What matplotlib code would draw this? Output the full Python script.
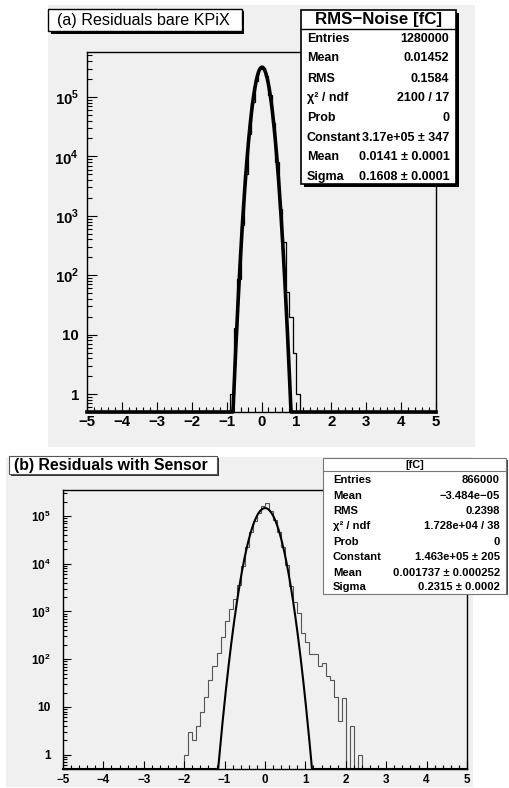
import numpy as np
import matplotlib
matplotlib.use('Agg')
import matplotlib.pyplot as plt
from matplotlib.patches import Rectangle
from matplotlib.ticker import FuncFormatter, FixedLocator, LogLocator, MultipleLocator

plt.rcParams['font.family'] = ['Liberation Sans', 'DejaVu Sans']
plt.rcParams['mathtext.fontset'] = 'custom'
plt.rcParams['mathtext.rm'] = 'Liberation Sans:bold'
plt.rcParams['mathtext.bf'] = 'Liberation Sans:bold'

W, H = 509, 788
PAD_GRAY = '#f0f0f0'

# histogram binning: 100 bins of 0.1 from -5 to 5
edges = np.round(np.linspace(-5.0, 5.0, 101), 2)

# (a) bare KPiX  -- lower bin edge -> entries
a_lo = [-0.9, -0.8, -0.7, -0.6, -0.5, -0.4, -0.3, -0.2, -0.1, 0.0,
        0.1, 0.2, 0.3, 0.4, 0.5, 0.6, 0.7, 0.8, 0.9, 1.0]
a_cnt = [1, 13, 85, 700, 5000, 24000, 82000, 188000, 293000, 309000,
         222000, 108000, 36000, 8000, 1300, 360, 53, 20, 5, 1]
a_const, a_mean, a_sigma = 3.17e5, 0.0141, 0.1608
a_stats = [('Entries', '1280000'), ('Mean', '0.01452'), ('RMS', '0.1584'),
           ('χ² / ndf', '2100 / 17'), ('Prob', '0'),
           ('Constant', '3.17e+05 ± 347'), ('Mean', '0.0141 ± 0.0001'),
           ('Sigma', '0.1608 ± 0.0001')]

# (b) with sensor
b_lo = [-2.0, -1.9, -1.8, -1.7, -1.6, -1.5, -1.4, -1.3, -1.2, -1.1,
        -1.0, -0.9, -0.8, -0.7, -0.6, -0.5, -0.4, -0.3, -0.2, -0.1,
        0.0, 0.1, 0.2, 0.3, 0.4, 0.5, 0.6, 0.7, 0.8, 0.9,
        1.0, 1.1, 1.2, 1.3, 1.4, 1.5, 1.6, 1.7, 1.8, 1.9,
        2.0, 2.1, 2.2, 2.3]
b_cnt = [1, 3, 2, 4, 8, 16, 37, 73, 135, 295,
         630, 1100, 1800, 3500, 9000, 22000, 47000, 80000, 115000, 160000,
         185000, 125000, 82000, 47000, 22500, 9500, 3400, 1600, 930, 360,
         230, 127, 127, 71, 84, 44, 36, 16, 5, 15,
         0, 4, 0, 1]
b_const, b_mean, b_sigma = 1.463e5, 0.001737, 0.2315
b_stats = [('Entries', '866000'), ('Mean', '−3.484e−05'), ('RMS', '0.2398'),
           ('χ² / ndf', '1.728e+04 / 38'), ('Prob', '0'),
           ('Constant', '1.463e+05 ± 205'), ('Mean', '0.001737 ± 0.000252'),
           ('Sigma', '0.2315 ± 0.0002')]


def counts(lo, cnt):
    c = np.zeros(len(edges) - 1)
    idx = np.round((np.array(lo) + 5.0) / 0.1).astype(int)
    c[idx] = cnt
    return c


def fax(x0, y0, x1, y1):
    # pixel box (top-left origin) -> figure fraction rect
    return [x0 / W, 1 - y1 / H, (x1 - x0) / W, (y1 - y0) / H]


def log_label(v, pos):
    k = int(round(np.log10(v)))
    if k == 0:
        return '1'
    if k == 1:
        return '10'
    return r'$10^{%d}$' % k


fig = plt.figure(figsize=(W / 100, H / 100), dpi=100)

# background pads
bg = fig.add_axes([0, 0, 1, 1], zorder=-1)
bg.set_xlim(0, W); bg.set_ylim(H, 0); bg.axis('off')
bg.add_patch(Rectangle((48, 5), 427, 442, color=PAD_GRAY, lw=0))
bg.add_patch(Rectangle((6, 457), 467, 330, color=PAD_GRAY, lw=0))

fit_x = np.linspace(-5, 5, 1001)


def panel(rect, cnt, const, mean, sigma, ylim, hist_kw, fit_lw, fsx, fsy, tl, lpad_x, lpad_y):
    ax = fig.add_axes(rect)
    ax.set_facecolor(PAD_GRAY)
    ax.set_yscale('log')
    ax.set_xlim(-5, 5)
    ax.set_ylim(*ylim)
    c = np.where(cnt > 0, cnt, 1e-3)
    ax.stairs(c, edges, baseline=None, **hist_kw)
    fy = const * np.exp(-0.5 * ((fit_x - mean) / sigma) ** 2)
    ax.plot(fit_x, np.maximum(fy, ylim[0]), color='black', lw=fit_lw,
            clip_on=False, zorder=3, solid_joinstyle='round')
    ax.xaxis.set_major_locator(MultipleLocator(1))
    ax.xaxis.set_minor_locator(MultipleLocator(0.2))
    ks = np.arange(np.ceil(np.log10(ylim[0])), np.floor(np.log10(ylim[1])) + 1)
    ax.yaxis.set_major_locator(FixedLocator(10.0 ** ks))
    ax.yaxis.set_minor_locator(LogLocator(base=10, subs=np.arange(2, 10), numticks=20))
    ax.yaxis.set_major_formatter(FuncFormatter(log_label))
    ax.tick_params(which='both', direction='in', top=False, right=False, width=0.8)
    ax.tick_params(which='minor', labelleft=False, labelbottom=False, length=tl[1])
    ax.tick_params(which='major', length=tl[0])
    ax.tick_params(axis='x', pad=lpad_x, labelsize=fsx)
    ax.tick_params(axis='y', pad=lpad_y, labelsize=fsy)
    for lab in ax.get_xticklabels() + ax.get_yticklabels():
        lab.set_fontweight('bold')
    for s in ax.spines.values():
        s.set_linewidth(1.0)
    return ax


ax_a = panel(fax(87, 52, 436, 412), counts(a_lo, a_cnt), a_const, a_mean, a_sigma,
             (0.5, 5.7e5), dict(color='black', lw=0.9), 2.6, 10.8, 10.8, (7.2, 3.6), 2.2, 5.8)
ax_b = panel(fax(63, 490, 467, 769), counts(b_lo, b_cnt), b_const, b_mean, b_sigma,
             (0.5, 3.5e5), dict(color='#555555', lw=0.8), 1.5, 8.4, 8.6, (6.0, 3.2), 3.4, 9.0)

# overlay for title and stats boxes
ov = fig.add_axes([0, 0, 1, 1], zorder=5)
ov.set_xlim(0, W); ov.set_ylim(H, 0); ov.axis('off')


def box(x0, y0, x1, y1, sh, sh_color, edge, lw):
    if sh > 0:
        ov.add_patch(Rectangle((x0 + sh, y0 + sh), x1 - x0, y1 - y0,
                               facecolor=sh_color, edgecolor='none'))
    ov.add_patch(Rectangle((x0, y0), x1 - x0, y1 - y0, facecolor='white',
                           edgecolor=edge, lw=lw))


# titles
box(48.5, 8.5, 242, 31, 2.5, 'black', 'black', 1.0)
ov.text(57, 20, '(a) Residuals bare KPiX', fontsize=11.6, va='center', ha='left')
box(9, 455.5, 217, 474, 2.0, '#333333', '#555555', 0.8)
ov.text(14, 465, '(b) Residuals with Sensor', fontsize=11.4, fontweight='bold',
        va='center', ha='left')

# stats (a)
box(301.5, 9.5, 456.5, 184, 3.0, 'black', 'black', 1.2)
ov.plot([301.5, 456.5], [29, 29], color='black', lw=1.0)
ov.text(379, 19, 'RMS−Noise [fC]', fontsize=12.2, fontweight='bold', ha='center', va='center')
ya = [39, 58.3, 79.3, 98.3, 118.3, 137.7, 157.3, 176.7]
for (lab, val), y in zip(a_stats, ya):
    ov.text(307, y, lab, fontsize=9.0, fontweight='bold', ha='left', va='center')
    ov.text(449.5, y, val, fontsize=9.0, fontweight='bold', ha='right', va='center')

# stats (b)
box(323.5, 458, 506.5, 593.5, 1.5, '#444444', '#777777', 0.8)
ov.plot([323.5, 506.5], [470.5, 470.5], color='#777777', lw=0.8)
ov.text(415, 464.5, '[fC]', fontsize=7.8, fontweight='bold', ha='center', va='center')
yb = [480, 495.5, 511, 526, 542, 557.5, 573, 587]
for (lab, val), y in zip(b_stats, yb):
    ov.text(333, y, lab, fontsize=8.1, fontweight='bold', ha='left', va='center')
    ov.text(500, y, val, fontsize=8.1, fontweight='bold', ha='right', va='center')

fig.savefig('out.png', dpi=100)
